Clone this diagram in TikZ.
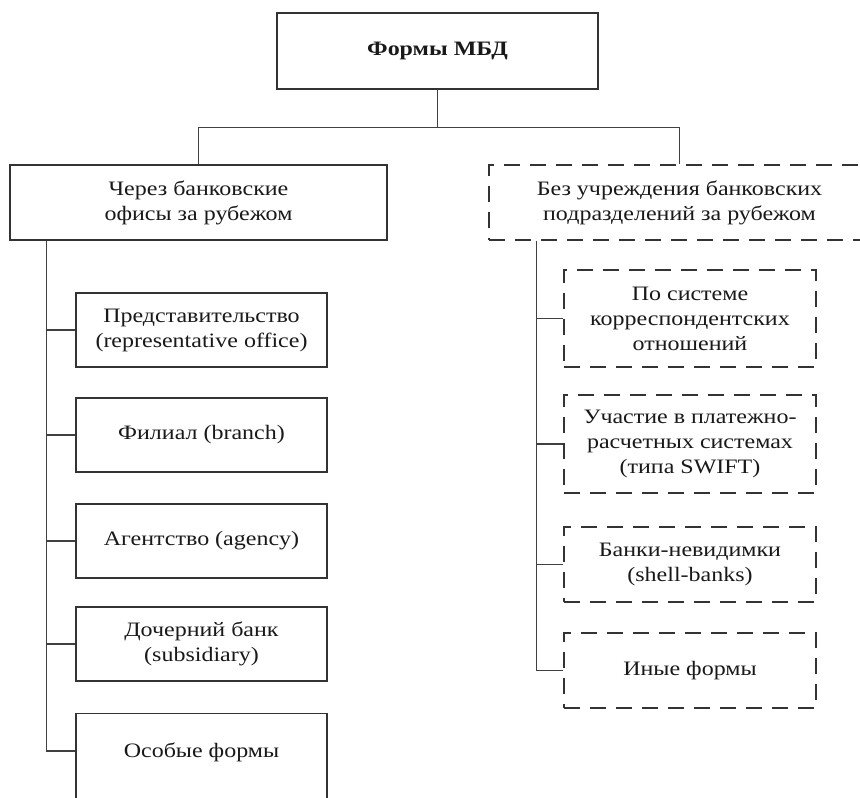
\documentclass[tikz,border=0pt]{standalone}
\usepackage{fontspec}
\setmainfont[FakeStretch=1.17]{Liberation Serif}
\begin{document}
\begin{tikzpicture}[x=1pt,y=-1pt,
  box/.style={draw=black!80, line width=1.3pt, align=center, inner sep=2pt,
    font=\fontsize{20.5}{25}\selectfont, text=black!90},
  dbox/.style={box, dash pattern=on 16pt off 10pt},
  conn/.style={draw=black!75, line width=1.3pt}]
\useasboundingbox (0,0) rectangle (860,798);
\fill[white] (0,0) rectangle (860,798);
\clip (0,0) rectangle (860,798);

\node[box, minimum width=321pt, minimum height=76pt] (top) at (437.5,51) {\bfseries Формы МБД};
\node[box, minimum width=377pt, minimum height=75pt] (L) at (198.5,202.5) {Через банковские\\офисы за рубежом};
\node[dbox, minimum width=381pt, minimum height=75pt] (R) at (679.5,202.5) {Без учреждения банковских\\подразделений за рубежом};

% left children
\node[box, minimum width=251pt, minimum height=74pt] (l1) at (201.5,330) {Представительство\\(representative office)};
\node[box, minimum width=251pt, minimum height=74pt] (l2) at (201.5,435) {Филиал (branch)};
\node[box, minimum width=251pt, minimum height=74pt] (l3) at (201.5,541) {Агентство (agency)};
\node[box, minimum width=251pt, minimum height=74pt] (l4) at (201.5,644) {Дочерний банк\\(subsidiary)};
\node[box, anchor=north, minimum width=251pt, inner ysep=30pt, text height=14pt, text depth=60pt] (l5) at (201.5,713) {Особые формы};

% right children
\node[dbox, minimum width=252pt, minimum height=97pt] (r1) at (690,318.5) {По системе\\корреспондентских\\отношений};
\node[dbox, minimum width=252pt, minimum height=98pt] (r2) at (690,444) {Участие в платежно-\\расчетных системах\\(типа SWIFT)};
\node[dbox, minimum width=252pt, minimum height=75pt] (r3) at (690,564.5) {Банки-невидимки\\(shell-banks)};
\node[dbox, minimum width=252pt, minimum height=75pt] (r4) at (690,670.5) {Иные формы};

% top connectors
\draw[conn] (top.south) -- ++(0,38) coordinate (hub);
\draw[conn] (L.north) |- (hub) -| (R.north);

% left trunk
\path (L.south west) ++(37,0) coordinate (lt);
\path (l5.north west) ++(0,38) coordinate (l5c);
\draw[conn] (lt) |- (l5c);
\draw[conn] (lt |- l1.west) -- (l1.west);
\draw[conn] (lt |- l2.west) -- (l2.west);
\draw[conn] (lt |- l3.west) -- (l3.west);
\draw[conn] (lt |- l4.west) -- (l4.west);

% right trunk
\path (R.south west) ++(48,0) coordinate (rt);
\draw[conn] (rt) |- (r4.west);
\draw[conn] (rt |- r1.west) -- (r1.west);
\draw[conn] (rt |- r2.west) -- (r2.west);
\draw[conn] (rt |- r3.west) -- (r3.west);
\end{tikzpicture}
\end{document}
